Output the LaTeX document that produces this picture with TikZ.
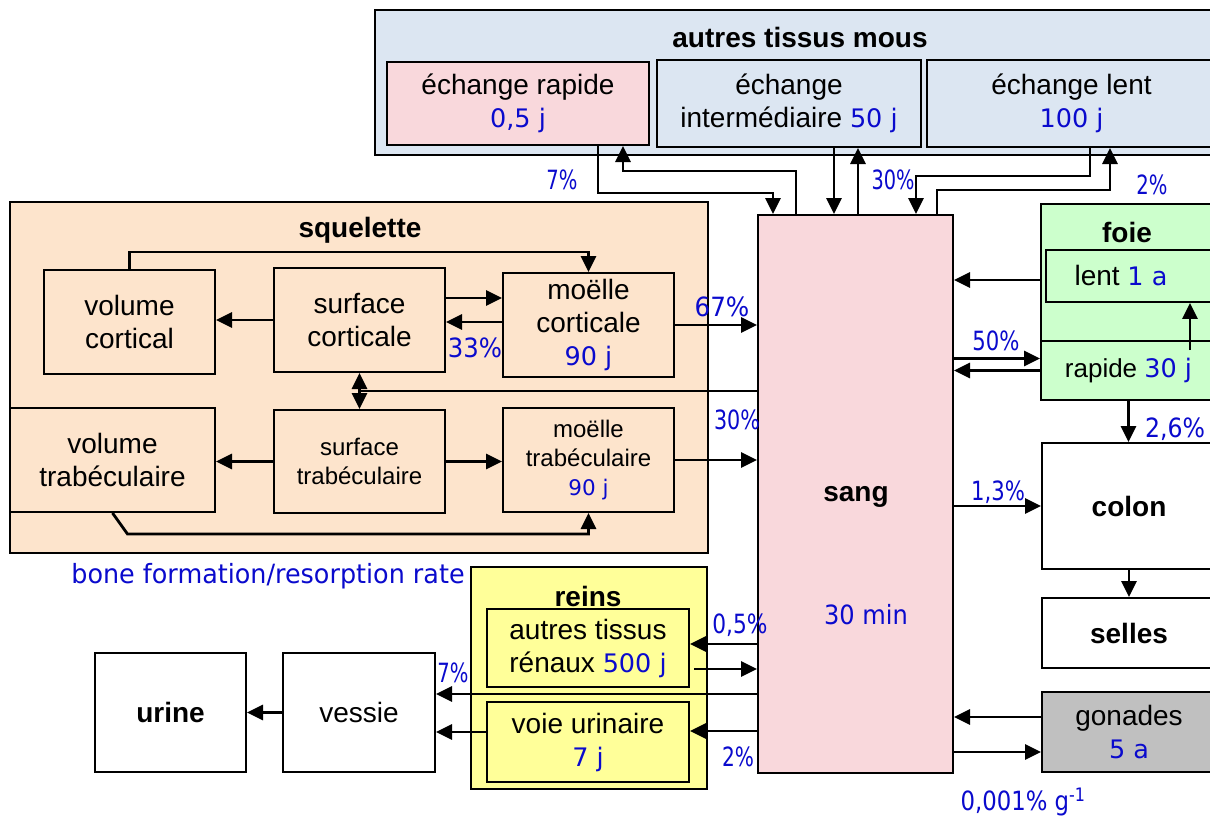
\documentclass[tikz,border=0pt]{standalone}
\usepackage{graphicx}
\usepackage{fontspec}
\setmainfont{Liberation Sans}
\newfontfamily\bluefont{DejaVu Sans}
\usetikzlibrary{arrows.meta,calc}
\definecolor{bluetxt}{RGB}{10,10,205}
\definecolor{cblue}{RGB}{220,230,242}
\definecolor{cpink}{RGB}{249,216,220}
\definecolor{cpeach}{RGB}{253,228,204}
\definecolor{cgreen}{RGB}{204,255,204}
\definecolor{cyellow}{RGB}{255,255,153}
\definecolor{cgray}{RGB}{192,192,192}
\newcommand{\bl}[1]{{\bluefont\fontsize{25.5}{33}\selectfont\color{bluetxt}#1}}
\newcommand{\bls}[1]{{\bluefont\fontsize{21.5}{29}\selectfont\color{bluetxt}#1}}
\newcommand{\blx}[2]{\scalebox{#1}[1]{{\bluefont\fontsize{26.5}{33}\selectfont\color{bluetxt}#2}}}
\newcommand{\txt}{\fontsize{28}{33}\selectfont}
\newcommand{\txts}{\fontsize{24}{29}\selectfont}
\tikzset{
  box/.style={draw=black, line width=2pt, inner sep=0pt, align=center, font=\txt},
  cont/.style={draw=black, line width=1.8pt, inner sep=0pt},
  ttl/.style={inner sep=0pt, font=\txt\bfseries},
  arr/.style={line width=2.8pt, -{Triangle[length=16pt,width=15pt]}},
  arrr/.style={line width=2.8pt, {Triangle[length=16pt,width=15pt]}-{Triangle[length=16pt,width=15pt]}},
  ln/.style={line width=2.8pt}
}
\begin{document}
\begin{tikzpicture}[x=1pt,y=-1pt]
\clip (0,0) rectangle (1210,817);
\fill[white] (0,0) rectangle (1210,817);

% containers
\node[cont, fill=cblue, minimum width=841pt, minimum height=145pt] (atm) at (795.5,82.5) {};
\node[ttl] (atmt) at (800,37) {autres tissus mous};
\node[cont, fill=cpeach, minimum width=698pt, minimum height=351pt] (sq) at (359,377.5) {};
\node[ttl] (sqt) at (360,230) {squelette};
\node[cont, fill=cgreen, minimum width=175pt, minimum height=196pt] (foie) at (1128.5,302) {};
\node[ttl] (foiet) at (1127,232) {foie};
\node[cont, fill=cyellow, minimum width=236pt, minimum height=222pt] (reins) at (589,678) {};
\node[ttl] (reinst) at (588,596) {reins};

% top boxes
\node[box, fill=cpink, minimum width=262pt, minimum height=83pt] (er) at (518,103.5) {échange rapide\\\bl{0,5 j}};
\node[box, fill=cblue, minimum width=264pt, minimum height=87pt] (ei) at (789,103.5) {échange\\intermédiaire \bl{50 j}};
\node[box, fill=cblue, minimum width=289pt, minimum height=87pt] (el) at (1071.5,103.5) {échange lent\\\bl{100 j}};

% sang
\node[box, fill=cpink, minimum width=195pt, minimum height=558pt] (sang) at (855.5,494) {};
\node[ttl] (sangt) at (856,497) {sang};
\node[inner sep=0pt] (sangm) at (866,615) {\blx{0.91}{30 min}};

% squelette boxes
\node[box, minimum width=171pt, minimum height=104pt] (vc) at (129.5,322) {volume\\cortical};
\node[box, minimum width=171pt, minimum height=104pt] (sc) at (359.5,320) {surface\\corticale};
\node[box, minimum width=171pt, minimum height=104pt] (mc) at (588.5,325) {moëlle\\corticale\\\bl{90 j}};
\node[box, minimum width=205pt, minimum height=104pt] (vt) at (112.5,460) {volume\\trabéculaire};
\node[box, font=\txts, minimum width=171pt, minimum height=103pt] (st) at (359.5,461.5) {surface\\trabéculaire};
\node[box, font=\txts, minimum width=171pt, minimum height=104pt] (mt) at (588.5,460) {moëlle\\trabéculaire\\\bls{90 j}};

% foie boxes
\node[box, line width=1.8pt, minimum width=170pt, minimum height=52pt] (lent) at (1131,276) {lent \bl{1 a}\hspace*{20pt}};
\node[box, line width=1.8pt, font=\fontsize{26}{30}\selectfont, minimum width=175pt, minimum height=59pt] (rapide) at (1128.5,370.5) {rapide \bl{30 j}};

% right boxes
\node[box, fill=white, font=\txt\bfseries, minimum width=174pt, minimum height=126pt] (colon) at (1129,506) {colon};
\node[box, fill=white, font=\txt\bfseries, minimum width=174pt, minimum height=70pt] (selles) at (1129,633) {selles};
\node[box, fill=cgray, minimum width=174pt, minimum height=80pt] (gon) at (1129,732) {gonades\\\bl{5 a}};

% reins boxes
\node[box, minimum width=202pt, minimum height=78pt] (atr) at (588,648) {autres tissus\\rénaux \bl{500 j}};
\node[box, minimum width=202pt, minimum height=80pt] (vu) at (588,742) {voie urinaire\\\bl{7 j}};

% bottom left
\node[box, fill=white, minimum width=152pt, minimum height=119pt] (vessie) at (359,712.5) {vessie};
\node[box, fill=white, font=\txt\bfseries, minimum width=151pt, minimum height=119pt] (urine) at (170.5,712.5) {urine};

% top connectors
\draw[arr] ([xshift=80pt]er.south) -- ++(0,47) -| ([xshift=16pt]sang.north west);
\draw[arr] ([xshift=39pt]sang.north west) -- ++(0,-43) -| ([xshift=105pt]er.south);
\draw[arr] ([xshift=45pt]ei.south) -- ([xshift=45pt]ei.south |- sang.north);
\draw[arr] ([xshift=69pt]ei.south |- sang.north) -- ([xshift=69pt]ei.south);
\draw[arr] ([xshift=18.5pt]el.south) -- ++(0,28) -| ([xshift=159pt]sang.north west);
\draw[arr] ([xshift=180pt]sang.north west) -- ++(0,-24) -| ([xshift=38.5pt]el.south);

% squelette connectors
\draw[arr] (vc.north) -- ++(0,-17) -| (mc.north);
\draw[arr] (sc.west) -- (sc.west -| vc.east);
\draw[arr] ([yshift=22pt]sc.east) -- ([yshift=22pt]sc.east -| mc.west);
\draw[arr] ([yshift=3pt]mc.west) -- ([yshift=3pt]mc.west -| sc.east);
\draw[arr] (mc.east) -- (mc.east -| sang.west);
\coordinate (sep) at ($(sc.south)!0.5!(st.north)$);
\draw[arrr] (sc.south) -- (st.north);
\draw[ln] (sep -| sang.west) -- (sep);
\draw[arr] (st.west) -- (st.west -| vt.east);
\draw[arr] (st.east) -- (st.east -| mt.west);
\draw[arr] (mt.east) -- (mt.east -| sang.west);
\draw[arr] (vt.south) -- ++(15,21) -| (mt.south);

% foie connectors
\draw[arr] ([yshift=-4pt]lent.west -| foie.west) -- ([yshift=-4pt]lent.west -| sang.east);
\draw[arr] ([yshift=12pt]rapide.west -| sang.east) -- ([yshift=12pt]rapide.west);
\draw[arr] (rapide.west) -- (rapide.west -| sang.east);
\draw[arr] ([xshift=61.5pt,yshift=20.5pt]rapide.center) coordinate (fu) -- (fu |- lent.south);
\draw[arr] (foie.south) -- (foie.south |- colon.north);
\draw[arr] (colon.west -| sang.east) -- (colon.west);
\draw[arr] (colon.south) -- (selles.north);
\draw[arr] ([yshift=15pt]gon.west) -- ([yshift=15pt]gon.west -| sang.east);
\draw[arr] ([yshift=-20pt]gon.west -| sang.east) -- ([yshift=-20pt]gon.west);

% reins connectors
\draw[arr] ([yshift=4pt]atr.east -| sang.west) -- ([yshift=4pt]atr.east);
\draw[arr] ([xshift=4pt,yshift=-21pt]atr.east) coordinate (a1) -- (a1 -| sang.west);
\draw[arr] ([yshift=18.5pt]vessie.east -| sang.west) -- ([yshift=18.5pt]vessie.east);
\draw[arr] ([yshift=11pt]vu.east -| sang.west) -- ([yshift=11pt]vu.east);
\draw[arr] ([yshift=10pt]vu.west) -- ([yshift=10pt]vu.west -| vessie.east);
\draw[arr] (vessie.west) -- (urine.east);

% labels
\node[inner sep=0pt] (l1) at (562,180) {\blx{0.74}{7\%}};
\node[inner sep=0pt] (l2) at (893,180) {\blx{0.73}{30\%}};
\node[inner sep=0pt] (l3) at (1152,185) {\blx{0.74}{2\%}};
\node[inner sep=0pt] (l4) at (722,307) {\blx{0.93}{67\%}};
\node[inner sep=0pt] (l5) at (475,348) {\blx{0.92}{33\%}};
\node[inner sep=0pt] (l6) at (737,420) {\blx{0.78}{30\%}};
\node[inner sep=0pt] (l7) at (996,341) {\blx{0.8}{50\%}};
\node[inner sep=0pt] (l8) at (1175,429) {\blx{0.89}{2,6\%}};
\node[inner sep=0pt] (l9) at (998,492) {\blx{0.8}{1,3\%}};
\node[inner sep=0pt] (l10) at (740,625) {\blx{0.82}{0,5\%}};
\node[inner sep=0pt] (l11) at (453,673) {\blx{0.74}{7\%}};
\node[inner sep=0pt] (l12) at (738,757) {\blx{0.76}{2\%}};
\node[inner sep=0pt] (l13) at (1023,802) {\blx{0.86}{0,001\% g\textsuperscript{-1}}};
\node[inner sep=0pt] (l14) at (268,576) {\blx{0.96}{bone formation/resorption rate}};
\end{tikzpicture}
\end{document}
